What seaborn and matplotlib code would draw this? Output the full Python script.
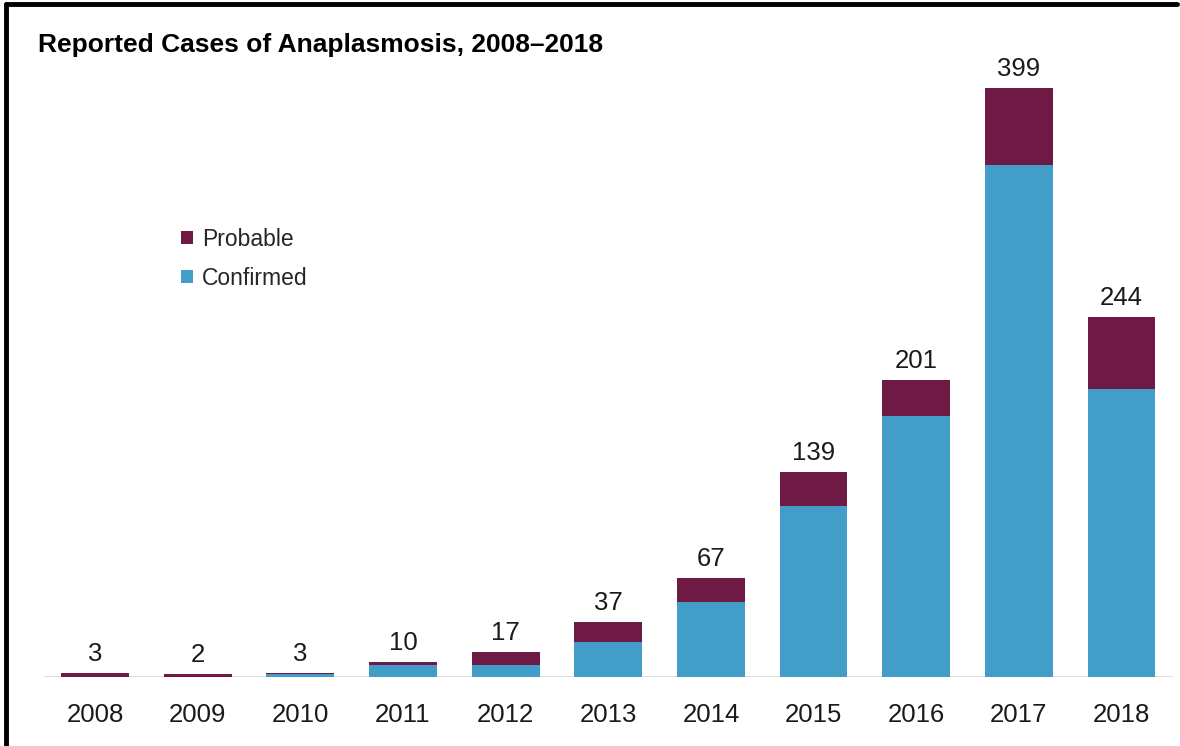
import matplotlib
matplotlib.use("Agg")
import matplotlib.pyplot as plt
import seaborn as sns
import pandas as pd
from matplotlib.patches import Patch
from matplotlib.lines import Line2D

years = ["2008", "2009", "2010", "2011", "2012", "2013", "2014", "2015", "2016", "2017", "2018"]
confirmed = [0, 0, 2, 8, 8, 24, 51, 116, 177, 347, 195]
probable = [3, 2, 1, 2, 9, 13, 16, 23, 24, 52, 49]
totals = [c + p for c, p in zip(confirmed, probable)]

col_prob = "#6f1a45"
col_conf = "#429dc9"

sns.set_theme(style="white")
plt.rcParams["font.family"] = ["Liberation Sans", "DejaVu Sans"]

df = pd.DataFrame({"year": years, "confirmed": confirmed, "probable": probable, "total": totals})

fig = plt.figure(figsize=(11.8, 7.46), dpi=100)
ax = fig.add_axes([0.037, 0.0925, 0.957, 0.831])

sns.barplot(data=df, x="year", y="total", color=col_prob, width=0.66, ax=ax,
            saturation=1, edgecolor="none", linewidth=0)
sns.barplot(data=df, x="year", y="confirmed", color=col_conf, width=0.66, ax=ax,
            saturation=1, edgecolor="none", linewidth=0)

ax.set_ylim(0, 420)
ax.set_xlim(-0.5, 10.5)
ax.axhline(0, color="#d9d9d9", lw=1.2, zorder=0)
for s in ax.spines.values():
    s.set_visible(False)
ax.set_yticks([])
ax.set_xlabel("")
ax.set_ylabel("")
ax.tick_params(axis="x", length=0, labelsize=18.5, pad=19, colors="#1a1a1a")

for i, t in enumerate(totals):
    ax.annotate(str(t), (i, t), xytext=(0, 5), textcoords="offset points",
                ha="center", va="bottom", fontsize=18.5, color="#1a1a1a")

handles = [Patch(facecolor=col_prob, edgecolor="none", label="Probable"),
           Patch(facecolor=col_conf, edgecolor="none", label="Confirmed")]
leg = fig.legend(handles=handles, loc="upper left", bbox_to_anchor=(0.136, 0.722),
                 frameon=False, fontsize=16.5, handlelength=0.5, handleheight=0.5,
                 handletextpad=0.4, labelspacing=0.7)

fig.text(0.032, 0.94, "Reported Cases of Anaplasmosis, 2008\u20132018",
         fontsize=19, fontweight="bold", ha="left", va="center", color="black",
         family=["Liberation Sans Narrow", "Liberation Sans", "DejaVu Sans"])

# frame lines (top and left)
fig.add_artist(Line2D([0.0055, 0.9975], [0.9945, 0.9945], color="black", lw=3.5,
                      transform=fig.transFigure))
fig.add_artist(Line2D([0.0055, 0.0055], [0.0, 0.9945], color="black", lw=3.5,
                      transform=fig.transFigure))

fig.savefig("out.png", dpi=100)
